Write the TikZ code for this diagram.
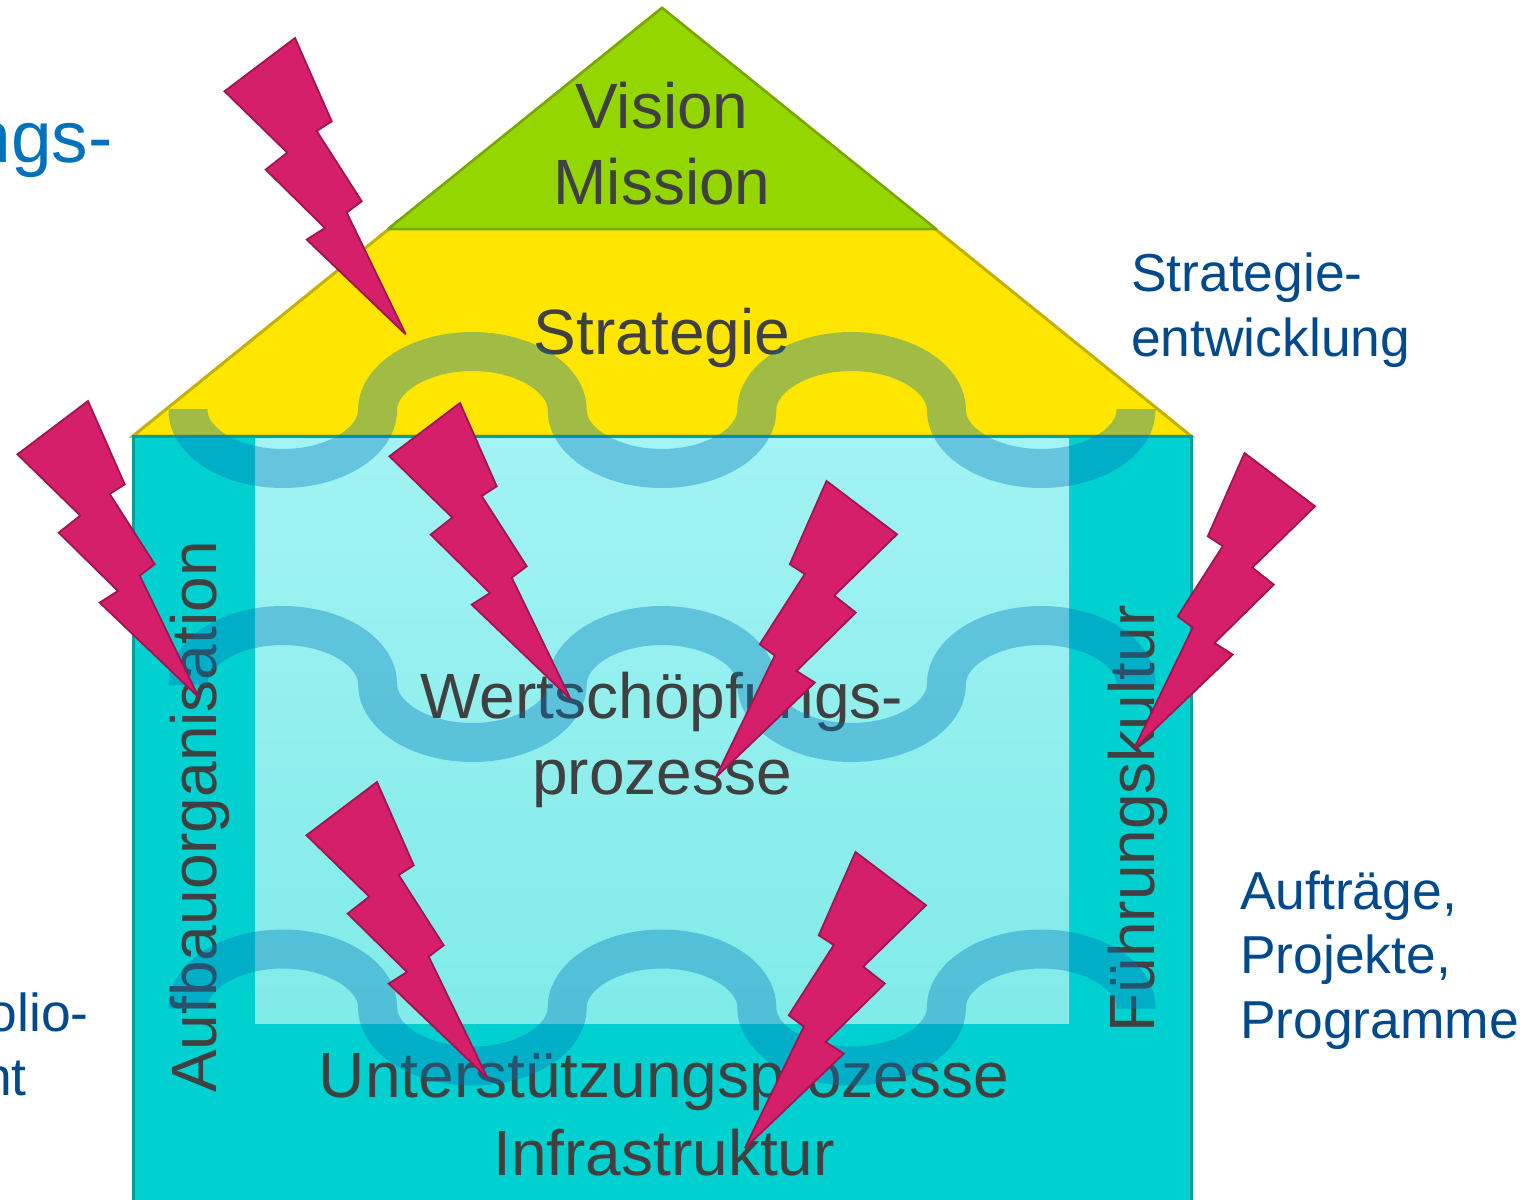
\documentclass[tikz,border=0pt]{standalone}
\usepackage{fontspec}
\setmainfont{Liberation Sans}
\definecolor{txtgray}{HTML}{404040}
\definecolor{blueA}{HTML}{0072BC}
\definecolor{blueB}{HTML}{004A8C}
\definecolor{roofY}{HTML}{FFE600}
\definecolor{roofYl}{HTML}{C4B000}
\definecolor{roofG}{HTML}{94D600}
\definecolor{roofGl}{HTML}{78A800}
\definecolor{bodyC}{HTML}{00D0D0}
\definecolor{bodyCl}{HTML}{00A0A0}
\definecolor{lightTop}{HTML}{A2F3F3}
\definecolor{lightBot}{HTML}{80EBE8}
\definecolor{waveB}{HTML}{0076BC}
\definecolor{boltF}{HTML}{D61F6A}
\definecolor{boltL}{HTML}{A0144F}
\def\wavedown{.. controls +(0,32) and +(-52,0) .. ++(94.8,58.5) .. controls +(52,0) and +(0,32) .. ++(94.8,-58.5)}
\def\waveup{.. controls +(0,-32) and +(-52,0) .. ++(94.8,-58.5) .. controls +(52,0) and +(0,-32) .. ++(94.8,58.5)}
\tikzset{
  wavepath/.style={draw=waveB,draw opacity=0.37,line width=39pt,line cap=butt,line join=round},
  bigtxt/.style={text=txtgray,font=\fontsize{64}{77.5}\selectfont,align=center,inner sep=0pt},
  bluetxt/.style={text=blueB,font=\fontsize{53.4}{64.5}\selectfont,align=left,inner sep=0pt},
  boltshape/.pic={\draw[fill=boltF,draw=boltL,line width=1.8pt,line join=miter,miter limit=3]
    (0,0)--(36.7,83.3)--(21.7,93)--(66.7,163.3)--(51.7,174.6)--(110.7,296.3)
    --(11.7,201.6)--(30,190)--(-29.3,131.6)--(-7.7,114.6)--(-70.5,53.3)--cycle;}
}
\begin{document}
\begin{tikzpicture}[x=1pt,y=-1pt]
\useasboundingbox (0,0) rectangle (1528,1199);
% house
\draw[fill=roofY,draw=roofYl,line width=3pt,line join=miter] (133,436)--(662,8)--(1191,436)--cycle;
\draw[fill=roofG,draw=roofGl,line width=2.5pt,line join=round] (388,229)--(662,8)--(936,229)--cycle;
\draw[fill=bodyC,draw=bodyCl,line width=3pt] (133,436) rectangle (1191,1210);
\shade[top color=lightTop,bottom color=lightBot] (255,438) rectangle (1069,1023);
% texts
\node[bigtxt] (vm) at (662,143.5) {Vision\\[-2pt]Mission};
\node[bigtxt] (st) at (662,338) {Strategie};
\node[bigtxt] (wp) at (662,740) {Wertschöpfungs-\\[-2pt]prozesse};
\node[bigtxt] (ui) at (664,1115) {Unterstützungsprozesse\\Infrastruktur};
\node[bigtxt,rotate=90] (ao) at (200,817) {Aufbauorganisation};
\node[bigtxt,rotate=90] (fk) at (1138,819) {Führungskultur};
\node[bluetxt,anchor=west] (se) at (1131,310) {Strategie-\\entwicklung};
\node[bluetxt,anchor=west] (ap) at (1240,960) {Aufträge,\\Projekte,\\Programme};
\node[text=blueA,font=\fontsize{73}{78}\selectfont,inner sep=0pt,anchor=base east] (ng) at (113,162) {ngs-};
\node[text=blueB,font=\fontsize{53.4}{64}\selectfont,inner sep=0pt,anchor=base east] (ol) at (89,1031) {olio-};
\node[text=blueB,font=\fontsize{53.4}{64}\selectfont,inner sep=0pt,anchor=base east] (nt) at (27,1095) {nt};
% waves
\draw[wavepath] (188,409) -- (188,410) \wavedown \waveup \wavedown \waveup \wavedown -- ++(0,-1);
\draw[wavepath] (188,685) -- (188,684) \waveup \wavedown \waveup \wavedown \waveup -- ++(0,1);
\draw[wavepath] (188,1008.5) -- (188,1007.5) \waveup \wavedown \waveup \wavedown \waveup -- ++(0,1);
% bolts
\pic at (295,38) {boltshape};
\pic at (88,401) {boltshape};
\pic at (460,403) {boltshape};
\pic at (377,782) {boltshape};
\pic[xscale=-1] at (826.5,481) {boltshape};
\pic[xscale=-1] at (1244.5,453) {boltshape};
\pic[xscale=-1] at (855.5,852) {boltshape};
\end{tikzpicture}
\end{document}
